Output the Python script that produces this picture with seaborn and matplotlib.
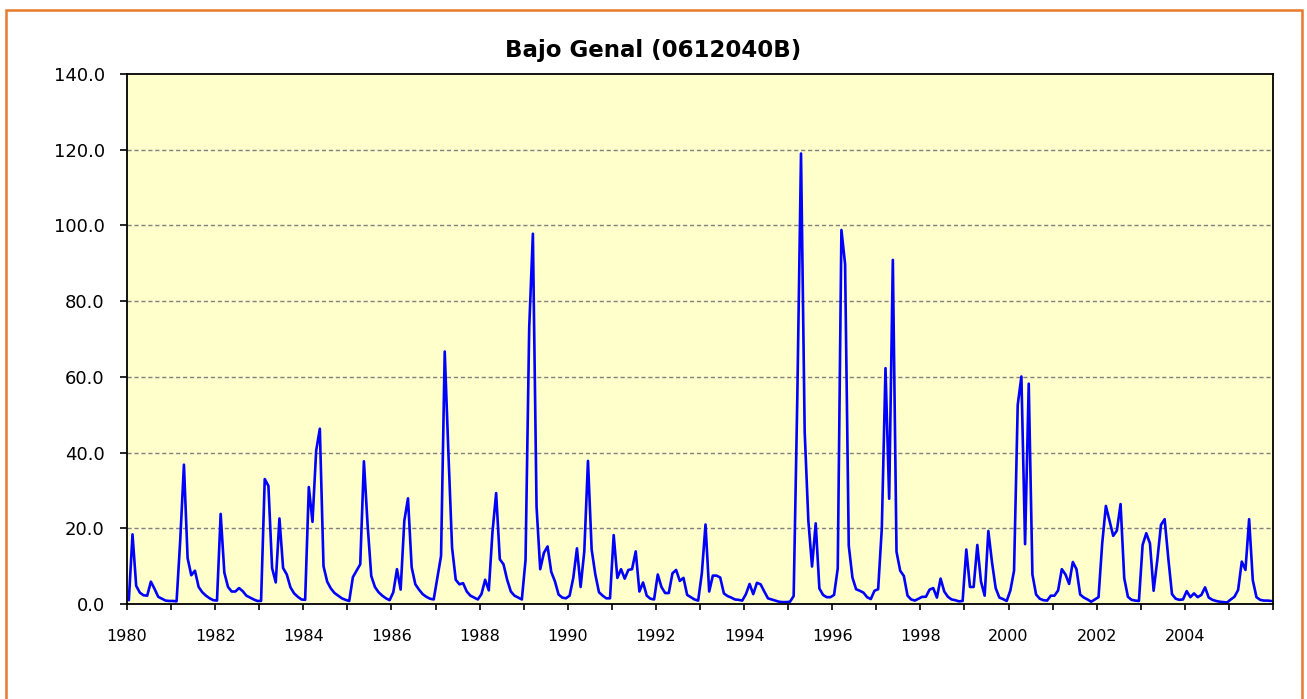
import numpy as np
import pandas as pd
import matplotlib
matplotlib.use("Agg")
import matplotlib.pyplot as plt
import seaborn as sns
from matplotlib.patches import Rectangle

# Monthly values, Jan 1980 - Dec 2005
###############################################################################

flow_1980s = [1.0, 18.4, 4.8, 3.0, 2.3, 2.2, 5.9, 4.0, 1.9, 1.4, 0.9, 0.8,
              0.8, 0.7, 17.0, 36.8, 12.1, 7.6, 8.8, 4.5, 3.1, 2.2, 1.5, 1.0,
              0.9, 23.8, 8.3, 4.5, 3.3, 3.3, 4.2, 3.4, 2.2, 1.7, 1.2, 0.8,
              0.8, 33.0, 31.2, 9.5, 5.7, 22.6, 9.5, 7.8, 4.4, 2.8, 1.9, 1.2,
              1.1, 30.9, 21.7, 40.5, 46.3, 10.0, 5.9, 4.1, 2.9, 2.2, 1.5, 1.1,
              0.8, 7.1, 8.8, 10.5, 37.7, 21.0, 7.4, 4.5, 3.1, 2.2, 1.5, 1.0,
              3.1, 9.2, 3.8, 22.0, 27.9, 9.7, 5.2, 3.8, 2.6, 1.9, 1.4, 1.2,
              6.9, 12.7, 66.7, 40.0, 14.9, 6.4, 5.2, 5.5, 3.3, 2.2, 1.7, 1.2,
              2.6, 6.4, 3.6, 19.0, 29.3, 11.8, 10.5, 6.4, 3.3, 2.2, 1.7, 1.2,
              11.6, 72.9, 97.8, 25.7, 9.2, 13.5, 15.2, 8.5, 6.0, 2.5, 1.7, 1.5]

flow_1990s = [2.2, 6.9, 14.7, 4.5, 13.9, 37.8, 14.4, 7.8, 3.1, 2.2, 1.5, 1.5,
              18.2, 6.9, 9.2, 6.7, 9.0, 9.2, 13.9, 3.3, 5.7, 2.2, 1.4, 1.2,
              7.8, 4.5, 2.9, 2.9, 8.1, 9.0, 6.1, 6.9, 2.4, 1.8, 1.2, 0.9,
              8.1, 21.0, 3.3, 7.5, 7.5, 7.0, 2.8, 2.1, 1.7, 1.2, 1.1, 0.9,
              2.6, 5.3, 2.6, 5.6, 5.2, 3.3, 1.5, 1.2, 0.9, 0.6, 0.5, 0.5,
              0.6, 2.1, 55.0, 119.0, 45.5, 22.0, 9.9, 21.3, 4.1, 2.4, 1.8, 1.8,
              2.4, 9.4, 98.8, 89.8, 15.4, 7.0, 3.9, 3.5, 3.0, 1.8, 1.3, 3.5,
              3.9, 20.0, 62.3, 27.8, 90.9, 13.8, 8.8, 7.4, 2.2, 1.2, 0.9, 1.4,
              1.9, 1.9, 3.8, 4.2, 1.7, 6.7, 3.3, 1.9, 1.2, 1.0, 0.7, 0.8,
              14.4, 4.5, 4.5, 15.6, 5.9, 2.2, 19.3, 11.0, 4.2, 1.7, 1.3, 0.8]

flow_2000s = [3.6, 8.8, 52.6, 60.1, 15.8, 58.2, 7.8, 2.5, 1.4, 1.0, 0.9, 2.2,
              2.2, 3.6, 9.2, 7.8, 5.3, 11.1, 9.2, 2.5, 1.7, 1.2, 0.6, 1.2,
              1.8, 16.0, 25.9, 22.0, 18.0, 19.4, 26.4, 6.8, 1.9, 1.1, 0.9, 0.8,
              15.6, 18.7, 16.0, 3.5, 11.6, 20.9, 22.4, 12.0, 2.6, 1.4, 1.1, 1.2,
              3.4, 1.8, 2.8, 1.8, 2.4, 4.4, 1.7, 1.1, 0.8, 0.6, 0.5, 0.4,
              1.2, 1.9, 3.7, 11.2, 9.0, 22.4, 6.3, 1.8, 1.1, 0.9, 0.9, 0.8]

start_year = 1980
end_year = 2006
title = 'Bajo Genal (0612040B)'

flow = flow_1980s + flow_1990s + flow_2000s
df = pd.DataFrame({'month': np.arange(len(flow)), 'flow': flow})
# points sit in the middle of each monthly category
df['year'] = start_year + (df['month'] + 0.5) / 12

# Plotting
###############################################################################

sns.set_style('ticks')
plt.rcParams['font.family'] = ['DejaVu Sans']

fig = plt.figure(figsize=(13.07, 6.99), dpi=100)
ax = fig.add_axes([127 / 1307, 1 - 604 / 699, 1146 / 1307, 530 / 699])
ax.set_facecolor('#FFFFCC')

sns.lineplot(data=df, x='year', y='flow', color='#0000FF', linewidth=1.9, ax=ax)

ax.set_xlim(start_year, end_year)
ax.set_ylim(0, 140)
ax.set_yticks(np.arange(0, 141, 20))
ax.set_yticklabels([f'{v:.1f}' for v in np.arange(0, 141, 20)], fontsize=13)
years = np.arange(start_year, end_year + 1)
ax.set_xticks(years)
ax.set_xticklabels([str(y) if (y % 2 == 0 and y < end_year) else '' for y in years], fontsize=11.5)
ax.tick_params(axis='y', length=5, width=1.2, pad=11, colors='black', labelcolor='black')
ax.tick_params(axis='x', length=4, width=1.2, pad=14, colors='black', labelcolor='black')
ax.set_xlabel('')
ax.set_ylabel('')

for v in np.arange(20, 140, 20):
    ax.axhline(v, color='#808080', linewidth=1.0, linestyle=(0, (3, 2)), zorder=0.5)

for s in ax.spines.values():
    s.set_color('black')
    s.set_linewidth(1.3)

fig.text(0.5, 1 - 50 / 699, title, ha='center', va='center', fontsize=16.5,
         fontweight='bold', color='black')

# chart area frame, its lower edge falls outside the picture
fig.patches.append(Rectangle((5.5 / 1307, -10 / 699), 1296.5 / 1307, 699 / 699,
                             transform=fig.transFigure, fill=False,
                             edgecolor='#E8792B', linewidth=1.8))

plt.savefig('out.png', dpi=100)
